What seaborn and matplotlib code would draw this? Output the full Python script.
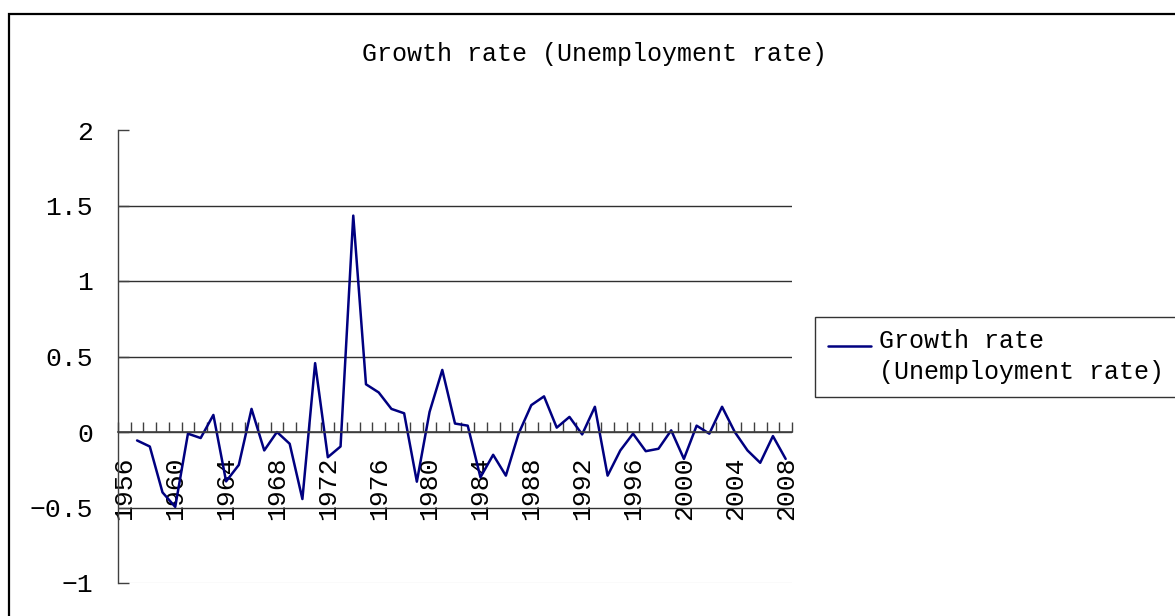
import numpy as np
import pandas as pd
import matplotlib
matplotlib.use("Agg")
import matplotlib.pyplot as plt
import matplotlib.patches as mpatches
from matplotlib.ticker import FuncFormatter
from matplotlib.legend_handler import HandlerLine2D
import seaborn as sns

# data (growth rate of unemployment rate)
years = list(range(1957, 2009))
growth = [-0.056, -0.096, -0.40, -0.496, -0.011, -0.04, 0.113, -0.327, -0.218, 0.153,
          -0.122, 0.0, -0.078, -0.444, 0.456, -0.167, -0.096, 1.433, 0.316, 0.262,
          0.153, 0.124, -0.329, 0.133, 0.411, 0.056, 0.042, -0.30, -0.151, -0.289,
          -0.011, 0.178, 0.236, 0.029, 0.10, -0.016, 0.167, -0.289, -0.122, -0.011,
          -0.127, -0.111, 0.011, -0.178, 0.042, -0.011, 0.167, 0.0, -0.122, -0.204,
          -0.027, -0.178]
first_year, last_year = 1956, 2008
label_years = list(range(1956, 2009, 4))
y_ticks = [-1, -0.5, 0, 0.5, 1, 1.5, 2]
title = "Growth rate (Unemployment rate)"
series_label = "Growth rate\n(Unemployment rate)"

df = pd.DataFrame({"year": years, "growth": growth})


class TopLineHandler(HandlerLine2D):
    # put the legend line next to the first text line (like Excel)
    def create_artists(self, *args, **kwargs):
        arts = super().create_artists(*args, **kwargs)
        for a in arts:
            a.set_ydata(np.asarray(a.get_ydata()) + 8)
        return arts


sns.set_style("white")
plt.rcParams["font.family"] = ["Liberation Mono", "DejaVu Sans Mono"]
plt.rcParams["axes.unicode_minus"] = True
plt.rcParams["text.color"] = "black"
plt.rcParams["xtick.labelcolor"] = "black"
plt.rcParams["ytick.labelcolor"] = "black"

fig = plt.figure(figsize=(11.75, 6.16), dpi=100)
ax = fig.add_axes([118 / 1175, 1 - 583 / 616, 674 / 1175, 453 / 616])

sns.lineplot(data=df, x="year", y="growth", color="#000080", linewidth=1.8,
             label=series_label, ax=ax)

ax.set_xlim(first_year - 0.5, last_year + 0.5)
ax.set_ylim(min(y_ticks), max(y_ticks))
ax.set_yticks(y_ticks)
ax.yaxis.set_major_formatter(FuncFormatter(lambda v, p: f"{v:g}".replace("-", "\u2212")))
ax.set_xticks(label_years)
ax.set_xticks(np.arange(first_year - 0.5, last_year + 1, 1), minor=True)
ax.set_xlabel("")
ax.set_ylabel("")

for s in ["top", "right"]:
    ax.spines[s].set_visible(False)
ax.spines["bottom"].set_position(("data", 0))
ax.spines["bottom"].set_color("#404040")
ax.spines["bottom"].set_linewidth(1.2)
ax.spines["left"].set_color("#404040")
ax.spines["left"].set_linewidth(1.0)

ax.tick_params(axis="y", direction="in", length=8, width=1, color="#404040",
               pad=18, labelsize=19, labelcolor="black", left=True)
ax.tick_params(axis="x", which="major", length=0, pad=18, labelsize=19,
               labelcolor="black", labelrotation=90, bottom=True)
ax.tick_params(axis="x", which="minor", direction="in", length=7, width=1,
               color="#404040", bottom=True)
for lab in ax.get_xticklabels():
    lab.set_rotation(90)
    lab.set_va("top")
    lab.set_ha("center")

# horizontal gridlines
ax.grid(axis="y", color="#303030", linewidth=1.0)
ax.grid(axis="x", visible=False)
for line, loc in zip(ax.yaxis.get_gridlines(), ax.get_yticks()):
    if loc == max(y_ticks):
        line.set_visible(False)
    elif loc == min(y_ticks):
        line.set_color("#e6e6e6")
ax.set_axisbelow(True)

fig.text(595 / 1175, 1 - 54 / 616, title, ha="center", va="center", fontsize=18,
         color="black")

leg = ax.legend(loc="upper left", bbox_to_anchor=(815 / 1175, 1 - 317 / 616),
                bbox_transform=fig.transFigure, fontsize=18, frameon=True,
                fancybox=False, framealpha=1, edgecolor="#333333",
                borderaxespad=0, borderpad=0.5, handlelength=1.75,
                handletextpad=0.3, labelspacing=0.2,
                handler_map={plt.Line2D: TopLineHandler()})
leg.get_frame().set_linewidth(1.0)
for t in leg.get_texts():
    t.set_linespacing(1.35)
    t.set_color("black")

# chart area border
fig.patches.append(mpatches.Rectangle((9 / 1175, -0.1), 1.2, 1.1 - 14 / 616,
                                      transform=fig.transFigure, fill=False,
                                      edgecolor="black", linewidth=1.6))

fig.savefig("out.png", dpi=100)
